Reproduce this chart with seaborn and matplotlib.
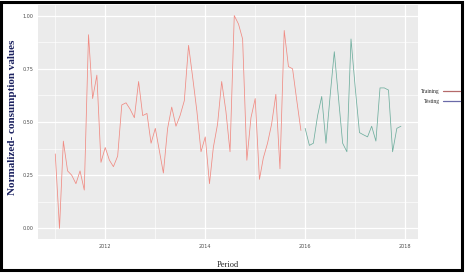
import pandas as pd
import seaborn as sns
import matplotlib.pyplot as plt
import matplotlib.dates as mdates
from matplotlib.lines import Line2D
from matplotlib.patches import Rectangle

# monthly values (Jan 2011 - Dec 2015 training, 2016-2017 testing)
train_values = [0.35, 0.00, 0.41, 0.27, 0.25, 0.21, 0.27, 0.18, 0.91, 0.61,
                0.72, 0.31, 0.38, 0.32, 0.29, 0.34, 0.58, 0.59, 0.56, 0.52,
                0.69, 0.53, 0.54, 0.40, 0.47, 0.36, 0.26, 0.47, 0.57, 0.48,
                0.53, 0.60, 0.86, 0.71, 0.55, 0.36, 0.43, 0.21, 0.38, 0.49,
                0.69, 0.55, 0.36, 1.00, 0.96, 0.89, 0.32, 0.52, 0.61, 0.23,
                0.33, 0.40, 0.49, 0.63, 0.28, 0.93, 0.76, 0.75, 0.60, 0.46]
test_values = [0.47, 0.39, 0.40, 0.53, 0.62, 0.40, 0.62, 0.83, 0.61, 0.40,
               0.36, 0.89, 0.66, 0.45, 0.44, 0.43, 0.48, 0.41, 0.66, 0.66,
               0.65, 0.36, 0.47, 0.48]
tick_years = ["2012", "2014", "2016", "2018"]
y_ticks = [0.00, 0.25, 0.50, 0.75, 1.00]

train_dates = pd.date_range("2011-01-01", periods=len(train_values), freq="MS")
test_dates = pd.date_range("2016-01-01", periods=len(test_values), freq="MS")

df = pd.concat([
    pd.DataFrame({"Period": train_dates, "value": train_values, "set": "Training"}),
    pd.DataFrame({"Period": test_dates, "value": test_values, "set": "Testing"}),
])

sns.set_style("darkgrid", {"axes.facecolor": "#EBEBEB", "grid.color": "white"})

fig = plt.figure(figsize=(4.66, 2.73), dpi=100)
ax = fig.add_axes([0.0815, 0.1245, 0.816, 0.8575])

palette = {"Training": "#F08A82", "Testing": "#6FAE9E"}
sns.lineplot(data=df, x="Period", y="value", hue="set", palette=palette,
             linewidth=0.55, ax=ax, legend=False)

# ggplot-like expansion
x0 = mdates.date2num(df["Period"].min())
x1 = mdates.date2num(df["Period"].max())
pad = (x1 - x0) * 0.05
ax.set_xlim(x0 - pad, x1 + pad)
ax.set_ylim(-0.05, 1.05)

ax.set_xticks([mdates.date2num(pd.Timestamp(y + "-01-01")) for y in tick_years])
ax.set_xticklabels(tick_years)
ax.set_yticks(y_ticks)
ax.set_yticklabels([f"{v:.2f}" for v in y_ticks])
ax.set_yticks([0.125, 0.375, 0.625, 0.875], minor=True)
ax.set_xticks([mdates.date2num(pd.Timestamp(f"{y}-01-01")) for y in [2011, 2013, 2015, 2017]], minor=True)
ax.grid(which="major", color="white", linewidth=0.9)
ax.grid(which="minor", color="white", linewidth=0.45)
ax.tick_params(axis="both", which="major", labelsize=3.5, labelcolor="#4d4d4d",
               length=2, width=0.5, color="#333333", pad=1.5)
ax.tick_params(which="minor", length=0)
for s in ax.spines.values():
    s.set_visible(False)

ax.set_xlabel("Period", fontsize=6, family="Liberation Serif", labelpad=9)
ax.set_ylabel("Normalized- consumption values", fontsize=8, family="Liberation Serif",
              fontweight="bold", color="#1c2260")
ax.yaxis.set_label_coords(-0.055, 0.52)

handles = [Line2D([], [], color="#b56a6a", linewidth=0.9),
           Line2D([], [], color="#6a6aa8", linewidth=0.9)]
leg = fig.legend(handles, ["Training", "Testing"], loc="center left",
                 bbox_to_anchor=(0.893, 0.645), frameon=False,
                 prop={"family": "Liberation Serif", "size": 4},
                 handlelength=3.2, handletextpad=0.5, labelspacing=0.9,
                 markerfirst=False)

# black frame round the picture
fig.patches.append(Rectangle((0.002, 0.012), 0.99, 0.982, transform=fig.transFigure,
                             fill=False, edgecolor="black", linewidth=2.2))

fig.savefig("out.png", dpi=100)
